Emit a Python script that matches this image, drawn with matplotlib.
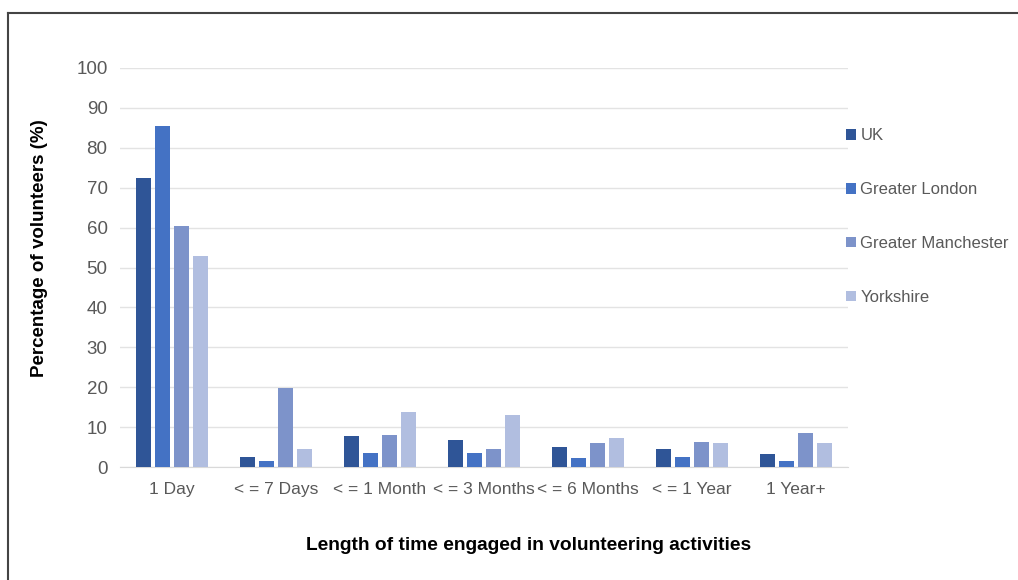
import numpy as np
import matplotlib.pyplot as plt
from matplotlib.lines import Line2D

plt.rcParams['font.family'] = ['Liberation Sans', 'DejaVu Sans']

categories = ['1 Day', '< = 7 Days', '< = 1 Month', '< = 3 Months',
              '< = 6 Months', '< = 1 Year', '1 Year+']
series = ['UK', 'Greater London', 'Greater Manchester', 'Yorkshire']
uk = [72.4, 2.6, 7.8, 6.8, 5.0, 4.5, 3.2]
london = [85.5, 1.6, 3.6, 3.6, 2.2, 2.4, 1.6]
manchester = [60.5, 19.8, 8.1, 4.6, 6.1, 6.3, 8.6]
yorkshire = [52.9, 4.5, 13.7, 13.0, 7.3, 5.9, 6.1]
values = [uk, london, manchester, yorkshire]
colors = ['#2F5597', '#4472C4', '#7D93CA', '#B1BEE0']

fig = plt.figure(figsize=(10.18, 5.8), dpi=100)
ax = fig.add_axes([120 / 1018, 1 - 467 / 580, 728 / 1018, 399 / 580])

x = np.arange(len(categories))
step = 0.18
width = 0.145
for k, (name, vals) in enumerate(zip(series, values)):
    ax.bar(x + (k - 1.5) * step, vals, width, color=colors[k], label=name, zorder=3)

ax.set_xlim(-0.5, len(categories) - 0.5)
ax.set_ylim(0, 100)
ax.set_yticks(range(0, 101, 10))
ax.set_xticks(x)
ax.set_xticklabels(categories)
ax.yaxis.grid(True, color='#E3E3E3', linewidth=1, zorder=0)
for s in ['top', 'right', 'left']:
    ax.spines[s].set_visible(False)
ax.spines['bottom'].set_color('#D9D9D9')
ax.tick_params(axis='x', length=0, labelsize=12.5, colors='#595959', pad=11)
ax.tick_params(axis='y', length=0, labelsize=13.5, colors='#595959', pad=9)

ax.set_ylabel('Percentage of volunteers (%)', fontsize=13.5, fontweight='bold')
ax.yaxis.set_label_coords(-72 / 728, 0.549)
fig.text(0.5 + 20 / 1018, 1 - 545 / 580, 'Length of time engaged in volunteering activities',
         ha='center', va='center', fontsize=13.8, fontweight='bold')

ax.legend(loc='upper left', bbox_to_anchor=(838 / 1018, 1 - 120 / 580),
          bbox_transform=fig.transFigure, frameon=False, fontsize=12,
          handlelength=0.6, handleheight=0.6, handletextpad=0.25,
          labelspacing=2.33, labelcolor='#595959', borderpad=0)

# frame around the picture (top and left edges)
fig.add_artist(Line2D([8 / 1018, 8 / 1018], [0, 1 - 13 / 580], transform=fig.transFigure,
                      color='#444444', linewidth=1.5))
fig.add_artist(Line2D([8 / 1018, 1], [1 - 13 / 580, 1 - 13 / 580], transform=fig.transFigure,
                      color='#444444', linewidth=1.5))

fig.savefig('out.png', dpi=100)
